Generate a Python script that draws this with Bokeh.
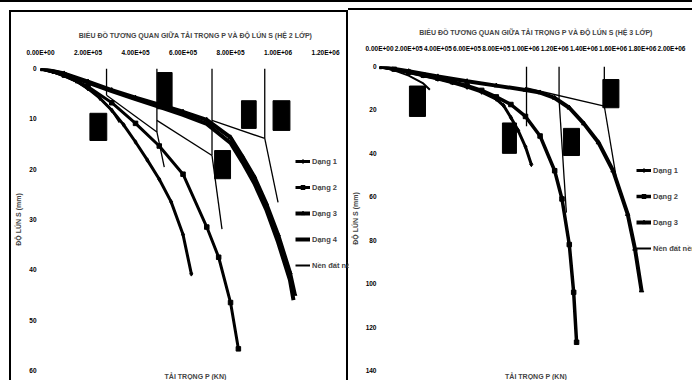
from bokeh.plotting import figure
from bokeh.models import Range1d, CustomJSTickFormatter, Legend, LegendItem, Title, FixedTicker
from bokeh.layouts import row
from bokeh.embed import file_html
from bokeh.resources import INLINE

# ---------------- texts ----------------
left_title = "BIỂU ĐỒ TƯƠNG QUAN GIỮA TẢI TRỌNG P VÀ ĐỘ LÚN S (HỆ 2 LỚP)"
right_title = "BIỂU ĐỒ TƯƠNG QUAN GIỮA TẢI TRỌNG P VÀ ĐỘ LÚN S (HỆ 3 LỚP)"
x_label = "TẢI TRỌNG P (KN)"
y_label = "ĐỘ LÚN S (mm)"

# ---------------- ticks ----------------
left_x_ticks = [0, 200000, 400000, 600000, 800000, 1000000, 1200000]
left_y_ticks = [0, 10, 20, 30, 40, 50, 60]
right_x_ticks = [0, 200000, 400000, 600000, 800000, 1000000, 1200000, 1400000, 1600000, 1800000, 2000000]
right_y_ticks = [0, 20, 40, 60, 80, 100, 120, 140]

# ---------------- left chart (2 layers) ----------------
L_names = ["Dạng 1", "Dạng 2", "Dạng 3", "Dạng 4", "Nền đất nền"]
L1_p = [0, 50000, 100000, 150000, 200000, 250000, 300000, 350000, 400000, 450000, 500000, 550000, 600000, 635000]
L1_s = [0, 0.6, 1.4, 2.5, 4.0, 5.9, 8.3, 11.2, 14.6, 18.2, 22.0, 26.5, 33.0, 40.8]
L2_p = [0, 100000, 200000, 300000, 400000, 500000, 600000, 700000, 750000, 800000, 833000]
L2_s = [0, 1.3, 3.6, 6.8, 10.9, 15.4, 21.0, 31.5, 37.5, 46.5, 55.7]
L3_p = [0, 100000, 200000, 300000, 400000, 500000, 600000, 700000, 800000, 850000, 900000, 950000, 1000000, 1050000, 1070000]
L3_s = [0, 1.0, 2.6, 4.3, 5.8, 7.2, 8.6, 10.2, 13.7, 17.5, 21.5, 26.8, 33.0, 40.5, 44.8]
L4_p = [0, 100000, 200000, 300000, 400000, 500000, 600000, 700000, 800000, 850000, 900000, 950000, 1000000, 1050000, 1065000]
L4_s = [0, 1.1, 2.8, 4.5, 6.1, 7.6, 9.2, 11.0, 14.8, 18.6, 22.8, 28.0, 34.5, 42.0, 46.0]
L5_p = [0, 50000, 100000, 150000, 200000, 250000, 300000, 333000]
L5_s = [0, 0.7, 1.6, 2.6, 4.0, 5.8, 8.3, 10.7]

# construction lines (P, S) start -> end
L_seg_p0 = [278000, 490000, 278000, 490000, 722000, 490000, 722000, 944000, 722000, 944000]
L_seg_s0 = [0, 0, 5.3, 12.6, 0, 10.3, 17.3, 0, 10.3, 13.9]
L_seg_p1 = [278000, 490000, 490000, 521000, 722000, 722000, 764000, 944000, 944000, 1000000]
L_seg_s1 = [5.3, 12.6, 12.6, 19.6, 17.3, 17.3, 31.9, 13.9, 13.9, 26.6]
# label boxes
L_box_p0 = [208000, 492000, 733000, 846000, 979000]
L_box_p1 = [279000, 554000, 800000, 908000, 1050000]
L_box_s0 = [8.9, 0.8, 16.3, 6.4, 6.4]
L_box_s1 = [14.3, 8.0, 21.9, 11.9, 12.3]

# ---------------- right chart (3 layers) ----------------
R_names = ["Dạng 1", "Dạng 2", "Dạng 3", "Nền đất nền"]
R1_p = [0, 100000, 200000, 300000, 400000, 500000, 600000, 700000, 800000, 850000, 900000, 950000, 1000000, 1040000]
R1_s = [0, 1.3, 2.8, 4.3, 5.8, 7.5, 9.5, 11.8, 15.0, 18.0, 23.5, 29.5, 37.0, 45.1]
R2_p = [0, 100000, 200000, 300000, 400000, 500000, 600000, 700000, 800000, 900000, 1000000, 1100000, 1200000, 1250000, 1300000, 1330000, 1350000]
R2_s = [0, 1.2, 2.6, 4.0, 5.4, 7.0, 8.8, 11.0, 14.0, 17.5, 23.0, 32.0, 48.0, 61.0, 82.0, 104.0, 127.0]
R3_p = [0, 200000, 400000, 600000, 800000, 1000000, 1100000, 1200000, 1300000, 1400000, 1500000, 1600000, 1700000, 1750000, 1795000]
R3_s = [0, 2.2, 4.6, 6.8, 8.8, 10.8, 12.0, 14.5, 19.0, 26.3, 35.0, 48.0, 68.0, 84.0, 103.2]
R4_p = [0, 100000, 200000, 300000, 345000]
R4_s = [0, 1.8, 4.2, 7.8, 10.7]

R_seg_p0 = [1007000, 1230000, 1230000, 1540000, 1007000, 1540000]
R_seg_s0 = [0, 0, 15.3, 0, 9.9, 18.3]
R_seg_p1 = [1007000, 1230000, 1280000, 1540000, 1540000, 1620000]
R_seg_s1 = [27.5, 15.3, 67.3, 18.3, 18.3, 50.5]
R_box_p0 = [205000, 842000, 1260000, 1530000]
R_box_p1 = [315000, 938000, 1370000, 1640000]
R_box_s0 = [9, 26, 28.5, 6]
R_box_s1 = [23, 40, 41, 19]

FONT = "Liberation Sans"

fmt = CustomJSTickFormatter(code="""
var s = tick.toExponential(2).toUpperCase();
return s.replace(/E([+-])(\\d)$/, function(m, a, b){ return "E" + a + "0" + b; });
""")


def make_chart(title, width, height, xmax, ymax, xticks, yticks, series, markers, widths, names,
               seg, box, mb_left, mb_top, x_standoff, y_standoff, title_standoff,
               legend_loc, border, margin):
    p = figure(width=width, height=height, output_backend="svg", toolbar_location=None,
               x_range=Range1d(0, xmax), y_range=Range1d(ymax, 0),
               x_axis_location="above", min_border_left=mb_left, min_border_right=0,
               min_border_top=mb_top, min_border_bottom=12)
    p.title.text = title
    p.title.align = "center"
    p.title.text_font = FONT
    p.title.text_font_size = "7px"
    p.title.text_font_style = "bold"
    p.title.standoff = title_standoff
    p.add_layout(Title(text=x_label, align="center", text_font=FONT, text_font_size="7px",
                       text_font_style="bold", standoff=0), "below")
    p.background_fill_color = "white"
    p.border_fill_color = "white"
    p.outline_line_color = None
    p.xgrid.visible = False
    p.ygrid.visible = False
    for ax in (p.xaxis[0], p.yaxis[0]):
        ax.axis_line_color = None
        ax.major_tick_line_color = None
        ax.minor_tick_line_color = None
        ax.major_tick_out = 0
        ax.major_tick_in = 0
        ax.minor_tick_out = 0
        ax.minor_tick_in = 0
        ax.major_label_text_font = FONT
        ax.major_label_text_font_style = "bold"
        ax.major_label_text_font_size = "6.5px"
        ax.major_label_text_color = "black"
    p.xaxis[0].major_label_standoff = x_standoff
    p.yaxis[0].major_label_standoff = y_standoff
    p.xaxis[0].ticker = FixedTicker(ticks=xticks)
    p.xaxis[0].formatter = fmt
    p.yaxis[0].ticker = FixedTicker(ticks=yticks)
    p.yaxis[0].axis_label = y_label
    p.yaxis[0].axis_label_text_font = FONT
    p.yaxis[0].axis_label_text_font_size = "7px"
    p.yaxis[0].axis_label_text_font_style = "bold"
    p.yaxis[0].axis_label_standoff = 4

    # construction lines and label boxes
    p.segment(seg[0], seg[1], seg[2], seg[3], line_color="black", line_width=1.3)
    p.quad(left=box[0], right=box[1], top=box[2], bottom=box[3], fill_color="black",
           line_color="black")

    items = []
    for (xs, ys), mk, lw, nm in zip(series, markers, widths, names):
        r = p.line(xs, ys, line_color="black", line_width=lw)
        rs = [r]
        if mk is not None:
            rm = p.scatter(xs, ys, marker=mk, size=4.5, fill_color="black", line_color="black")
            rs.append(rm)
        items.append(LegendItem(label=nm, renderers=rs))
    leg = Legend(items=items, location=legend_loc, padding=0, margin=0, spacing=16,
                 glyph_width=15, glyph_height=10, label_height=10, label_standoff=2,
                 label_text_font=FONT, label_text_font_size="7.5px", label_text_font_style="bold",
                 background_fill_alpha=0, border_line_color=None)
    p.add_layout(leg, "center")
    p.styles = border
    p.margin = margin
    return p


left = make_chart(left_title, 339, 370, 1305000, 60, left_x_ticks, left_y_ticks,
                  [(L1_p, L1_s), (L2_p, L2_s), (L3_p, L3_s), (L4_p, L4_s), (L5_p, L5_s)],
                  ["diamond", "square", "triangle", None, None], [3, 3, 4, 4, 2], L_names,
                  (L_seg_p0, L_seg_s0, L_seg_p1, L_seg_s1), (L_box_p0, L_box_p1, L_box_s1, L_box_s0),
                  29, 56, 13, 4, 13, (255, 100),
                  {"border-left": "2px solid black", "border-top": "2px solid black",
                   "border-right": "2px solid black"}, (8, 0, 0, 9))
right = make_chart(right_title, 344, 372, 2144000, 140, right_x_ticks, right_y_ticks,
                   [(R1_p, R1_s), (R2_p, R2_s), (R3_p, R3_s), (R4_p, R4_s)],
                   ["diamond", "square", "triangle", None], [3, 3.5, 4, 2], R_names,
                   (R_seg_p0, R_seg_s0, R_seg_p1, R_seg_s1), (R_box_p0, R_box_p1, R_box_s1, R_box_s0),
                   31, 55, 15, 3, 12, (257, 117),
                   {"border-top": "2px solid black"}, (6, 0, 0, 0))

lay = row(left, right)
lay.styles = {"border-top": "2px solid black"}
open("out.html", "w").write(file_html(lay, INLINE))
